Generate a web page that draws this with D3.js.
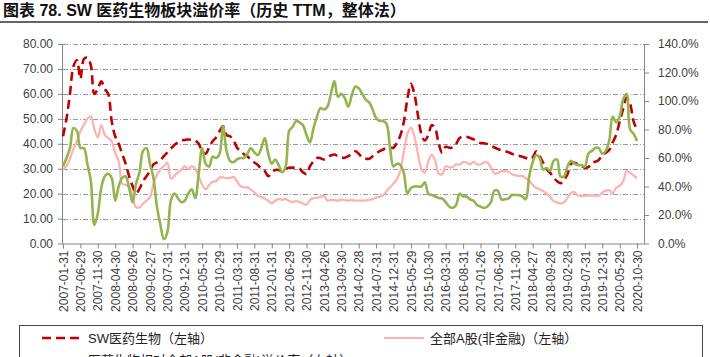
<!DOCTYPE html>
<html><head><meta charset="utf-8">
<script src="https://cdn.jsdelivr.net/npm/d3@7"></script>
<style>body{margin:0;background:#fff;overflow:hidden}svg{display:block}</style>
</head><body><svg id="c" width="710" height="357"></svg>
<script>
// ---- data ----
const swPharma = [43,50,60,71,73.5,66,74,74.5,71.5,60,
62,65,62,60,49,43,40,36,32,27,
23,20,22,25,27,29,31.7,32.5,33.5,35,
36.5,38,39.5,40.5,41.3,41.5,41.7,41.5,41.3,40,
37,36,38.5,41,42.5,45,47,43.5,43,41.5,
38.5,37,35.8,35,33.5,32.5,31.5,30,29,27,
28.4,29.5,29.5,29,30,30.4,30.4,30.4,30,28.5,
27.8,31,33,34.3,34.2,33.7,34.5,35.3,35.7,35,
34.4,34.4,35,36,37,36,34.4,34,34,35,
36,37,37.7,38.3,38.4,38.4,40.5,43.5,49,58,
64,60,51.6,44,41.3,43.5,47.5,46,40,36.4,
38.8,38.4,38.5,40,42.3,42.8,42.8,42.3,41.8,40.8,
40.3,40.2,39.9,39.2,38.5,37.9,37.4,37,36.6,36,
35.5,35.2,34.8,34.3,33.8,34.5,37,35,32.4,29.8,
28.4,26.5,25,24.2,25.5,27.8,32,32.4,31.7,31.1,
30.4,30.6,32.5,32.8,33.5,35.5,36.4,37.5,40.5,43.6,
48.8,54,58.5,56,49,45.5];

const allA = [29.5,31,34,38,41,45,47.6,50,51,46,
42.5,47.5,43.6,42.3,41,36.4,33,24,23.5,22.5,
19,14.5,14.5,16,17.2,18.5,24,27.5,29.8,31,
32.4,26,27,28.5,29.5,31,29.8,31,30,27,
23.5,21.8,23.5,24.8,25,26.5,26.5,26.2,26.3,26.7,
25,23,22.5,22.5,21.5,20.5,19.2,18.7,18,17.2,
16.1,17.2,17.9,17.5,17.9,17,16.6,17,16.6,16,
15.6,17.5,18.2,18.4,18.6,19.1,17.2,17.5,17.4,17.2,
17.6,17.5,17.2,17.4,17.2,17.2,17.2,17.3,17.5,17.8,
18.4,18.8,19.3,21,22.5,24,25.8,29.5,37,44,
46.5,43,36,30,28.4,33,35.5,33,28,27.8,
31,30.6,30.6,31.7,31.7,32.7,32.5,31.7,32.8,31.7,
31.7,32.5,32.5,30.5,28.1,28.3,29,29,28.8,27.8,
27.3,27.1,27.1,26.2,25.2,23.5,22.3,21.8,21,20,
18.7,17,16.5,16,16.5,18.3,20.3,20.5,19.3,19,
19.2,19.2,19.2,19.2,19.2,20.4,21.2,21.4,20.1,22.4,
23.1,25,29,28.4,27.3,26.2];

const premium = [54,60,67,81,79,67,67,56,44,13,
21,39,47,49,46,30,40,46,47,39,
29,42,50,65,67,56,46,26,13,3,
8,30,35,32,29,30,35,38,32,49,
67,56,54,61,60,63,82,65,58,57,
59,60,60,63,67,64,62,67,74,63,
56,59,55,50,54,79,82,86,85,83,
76,71,81,89,95,94,96,105,114,103,
105,102,96,104,110,109,105,101,99,94,
88,86,86,84,67,54,56,55,49,35,
39,40,40,40,43,35,34,33,32,31.5,
29,26,25,27,35,33,33,31,30,27,
26,25,26,29,37,37,31,31,31.5,34,
34,34,33,31,47,57,62,60,52,53,
51,58,59,47,47,54,58,56,55,55,
54,63,65,67,67,63,65,72,89,85,
89,101,105,80,77,72];

const tickLabels = ["2007-01-31","2007-06-29","2007-11-30","2008-04-30","2008-09-26","2009-02-27","2009-07-31","2009-12-31","2010-05-31","2010-10-29","2011-03-31","2011-08-31","2012-01-31","2012-06-29","2012-11-30","2013-04-26","2013-09-30","2014-02-28","2014-07-31","2014-12-31","2015-05-29","2015-10-30","2016-03-31","2016-08-31","2017-01-26","2017-06-30","2017-11-30","2018-04-27","2018-09-28","2019-02-28","2019-07-31","2019-12-31","2020-05-29","2020-10-30"];
const tickStep = 5;
const leftTicks = [0,10,20,30,40,50,60,70,80];
const rightTicks = [0,20,40,60,80,100,120,140];
const titleText = "图表 78. SW 医药生物板块溢价率（历史 TTM，整体法）";
const legendLabels = ["SW医药生物（左轴）","全部A股(非金融)（左轴）","医药生物相对全部A股(非金融)溢价率（右轴）"];

// ---- layout ----
const svg = d3.select("#c");
const L = 63, R = 644, T = 44, B = 243.5;
const x = d3.scaleLinear().domain([0,167]).range([L,R]);
const yL = d3.scaleLinear().domain([0,80]).range([B,T]);
const yR = d3.scaleLinear().domain([0,140]).range([B,T]);
const axisCol = "#868686", txtCol = "#404040";
const font = "'Liberation Sans', Arial, sans-serif";
const cjk = "'Liberation Sans','Noto Sans CJK SC',sans-serif";

// title
svg.append("text").attr("x",3).attr("y",16).attr("font-family",cjk)
  .attr("font-weight","bold").attr("font-size",16).attr("fill","#111").text(titleText);
svg.append("line").attr("x1",0).attr("x2",708).attr("y1",22).attr("y2",22)
  .attr("stroke","#333").attr("stroke-width",1.5);

// grid
svg.append("g").selectAll("line").data(leftTicks.filter(d=>d>0)).join("line")
  .attr("x1",L).attr("x2",R).attr("y1",d=>Math.round(yL(d))+0.5).attr("y2",d=>Math.round(yL(d))+0.5)
  .attr("stroke","#7f7f7f").attr("stroke-width",0.8).attr("stroke-dasharray","5,2,1,2");

// left axis
const gl = svg.append("g").attr("transform",`translate(${L},0)`)
  .call(d3.axisLeft(yL).tickValues(leftTicks).tickFormat(d3.format(".2f")).tickSize(5).tickPadding(5));
// right axis
const gr = svg.append("g").attr("transform",`translate(${R},0)`)
  .call(d3.axisRight(yR).tickValues(rightTicks).tickFormat(d=>d.toFixed(1)+"%").tickSize(5).tickPadding(9));
// bottom axis
const tickIdx = tickLabels.map((d,i)=>i*tickStep);
const gb = svg.append("g").attr("transform",`translate(0,${B})`)
  .call(d3.axisBottom(x).tickValues(tickIdx).tickFormat((d,i)=>tickLabels[i]).tickSize(5).tickSizeOuter(0));
gb.selectAll("text").attr("transform","rotate(-90)").attr("text-anchor","end")
  .attr("x",-7).attr("y",0).attr("dy","0.35em");
[gl,gr,gb].forEach(g=>{
  g.selectAll("path,line").attr("stroke",axisCol).attr("stroke-width",1);
  g.selectAll("text").attr("fill",txtCol).attr("font-family",font).attr("font-size",12);
});
gl.select(".domain").attr("d",`M-0.5,${B}V${T}`);
gr.select(".domain").attr("d",`M0.5,${B}V${T}`);

// lines
const lineL = d3.line().x((d,i)=>x(i)).y(d=>yL(d)).curve(d3.curveCatmullRom.alpha(0.5));
const lineR = d3.line().x((d,i)=>x(i)).y(d=>yR(d)).curve(d3.curveCatmullRom.alpha(0.5));
svg.append("path").datum(swPharma).attr("d",lineL).attr("fill","none")
  .attr("stroke","#C00000").attr("stroke-width",2.6).attr("stroke-dasharray","9,5");
svg.append("path").datum(allA).attr("d",lineL).attr("fill","none")
  .attr("stroke","#FFB0B0").attr("stroke-width",2.2);
svg.append("path").datum(premium).attr("d",lineR).attr("fill","none")
  .attr("stroke","#92B54F").attr("stroke-width",2.6);

// legend
svg.append("rect").attr("x",19.5).attr("y",325.5).attr("width",683).attr("height",60)
  .attr("fill","none").attr("stroke","#444").attr("stroke-width",1);
const leg = [
  {x:42,y:338,label:legendLabels[0],stroke:"#C00000",dash:"9,5",w:2.6},
  {x:384,y:338,label:legendLabels[1],stroke:"#FFB0B0",dash:null,w:2.2},
  {x:42,y:360,label:legendLabels[2],stroke:"#92B54F",dash:null,w:2.6}
];
leg.forEach(d=>{
  svg.append("line").attr("x1",d.x).attr("x2",d.x+40).attr("y1",d.y).attr("y2",d.y)
    .attr("stroke",d.stroke).attr("stroke-width",d.w).attr("stroke-dasharray",d.dash);
  svg.append("text").attr("x",d.x+46).attr("y",d.y+4.5).attr("font-family",cjk)
    .attr("font-size",13).attr("fill","#222").text(d.label);
});
</script></body></html>
